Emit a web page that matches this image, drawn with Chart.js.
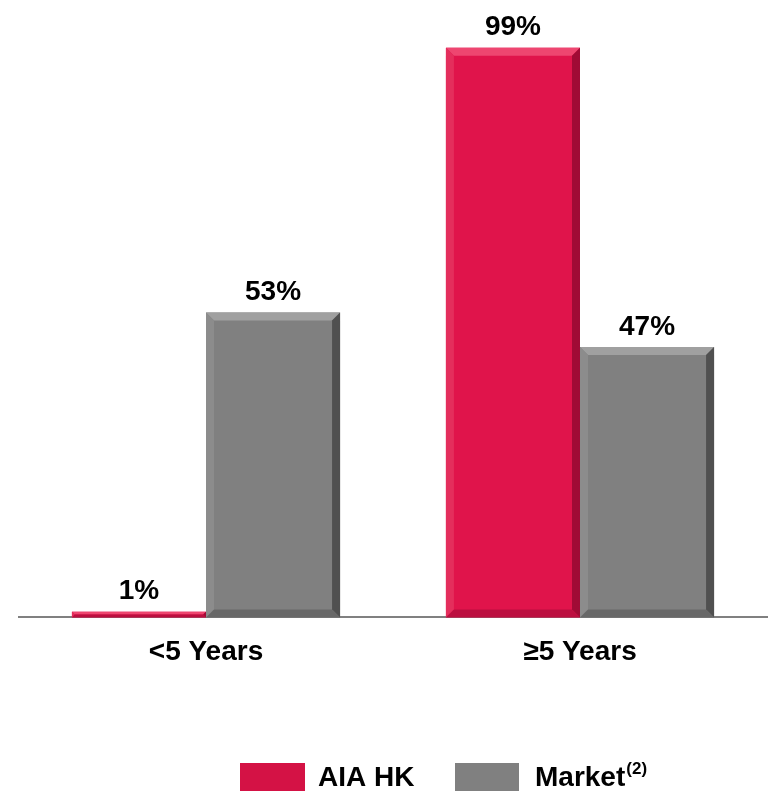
<!DOCTYPE html>
<html>
<head>
<meta charset="utf-8">
<script src="https://cdn.jsdelivr.net/npm/chart.js@4"></script>
<style>
  html, body { margin: 0; padding: 0; background: #fff; }
  #wrap { width: 771px; height: 793px; position: relative; }
</style>
</head>
<body>
<div id="wrap"><canvas id="chart"></canvas></div>
<script>
var categories = ['<5 Years', '\u22655 Years'];
var aiaValues = [1, 99];
var marketValues = [53, 47];
var seriesNames = ['AIA HK', 'Market'];

var RED = '#E0144B';
var GRAY = '#808080';
var FONT = '"Liberation Sans", Arial, sans-serif';

// bevel look on each bar, drawn from the bar elements the library placed
var bevelPlugin = {
  id: 'bevel',
  afterDatasetsDraw: function(chart) {
    var ctx = chart.ctx;
    var shades = [
      { top: '#EE4670', left: '#E42E5C', right: '#A00B35', bottom: '#BC0F40' },
      { top: '#A0A0A0', left: '#8C8C8C', right: '#505050', bottom: '#686868' }
    ];
    chart.data.datasets.forEach(function(ds, di) {
      var meta = chart.getDatasetMeta(di);
      meta.data.forEach(function(bar) {
        var x0 = bar.x - bar.width / 2, x1 = bar.x + bar.width / 2;
        var y0 = bar.y, y1 = bar.base;
        var b = Math.min(8, (y1 - y0) / 2);
        var s = shades[di];
        function poly(pts, col) {
          ctx.beginPath();
          ctx.moveTo(pts[0][0], pts[0][1]);
          for (var i = 1; i < pts.length; i++) ctx.lineTo(pts[i][0], pts[i][1]);
          ctx.closePath();
          ctx.fillStyle = col;
          ctx.fill();
        }
        ctx.save();
        poly([[x0, y0], [x1, y0], [x1 - b, y0 + b], [x0 + b, y0 + b]], s.top);
        poly([[x0, y0], [x0 + b, y0 + b], [x0 + b, y1 - b], [x0, y1]], s.left);
        poly([[x1, y0], [x1, y1], [x1 - b, y1 - b], [x1 - b, y0 + b]], s.right);
        poly([[x0, y1], [x0 + b, y1 - b], [x1 - b, y1 - b], [x1, y1]], s.bottom);
        ctx.restore();
      });
    });
  }
};

// percentage labels above bars
var valueLabels = {
  id: 'valueLabels',
  afterDatasetsDraw: function(chart) {
    var ctx = chart.ctx;
    ctx.save();
    ctx.font = 'bold 28px ' + FONT;
    ctx.fillStyle = '#000';
    ctx.textAlign = 'center';
    ctx.textBaseline = 'bottom';
    chart.data.datasets.forEach(function(ds, di) {
      chart.getDatasetMeta(di).data.forEach(function(bar, i) {
        ctx.fillText(ds.data[i] + '%', bar.x, bar.y - 6);
      });
    });
    ctx.restore();
  }
};

// legend at the bottom
var bottomLegend = {
  id: 'bottomLegend',
  afterDraw: function(chart) {
    var ctx = chart.ctx;
    ctx.save();
    ctx.font = 'bold 28px ' + FONT;
    ctx.textBaseline = 'middle';
    var y = 763, h = 28;
    ctx.fillStyle = '#D41245';
    ctx.fillRect(240, y, 65, h);
    ctx.fillStyle = GRAY;
    ctx.fillRect(455, y, 64, h);
    ctx.fillStyle = '#000';
    ctx.fillText(seriesNames[0], 318, y + h / 2 + 1);
    ctx.fillText(seriesNames[1], 535, y + h / 2 + 1);
    var w = ctx.measureText(seriesNames[1]).width;
    ctx.font = 'bold 17px ' + FONT;
    ctx.fillText('(2)', 535 + w + 1, y + 6);
    ctx.restore();
  }
};

new Chart(document.getElementById('chart'), {
  type: 'bar',
  data: {
    labels: categories,
    datasets: [
      { label: seriesNames[0], data: aiaValues, backgroundColor: RED },
      { label: seriesNames[1], data: marketValues, backgroundColor: GRAY }
    ]
  },
  options: {
    responsive: true,
    maintainAspectRatio: false,
    animation: false,
    layout: { padding: { top: 42, left: 19, right: 4, bottom: 106 } },
    datasets: { bar: { barPercentage: 1, categoryPercentage: 0.717 } },
    plugins: { legend: { display: false }, tooltip: { enabled: false } },
    scales: {
      y: { display: false, min: 0, max: 100 },
      x: {
        grid: { display: true, drawOnChartArea: false, drawTicks: false },
        border: { display: true, color: GRAY, width: 2 },
        ticks: { color: '#000', font: { family: FONT, size: 28, weight: 'bold' }, padding: 18 }
      }
    }
  },
  plugins: [bevelPlugin, valueLabels, bottomLegend]
});
</script>
</body>
</html>
